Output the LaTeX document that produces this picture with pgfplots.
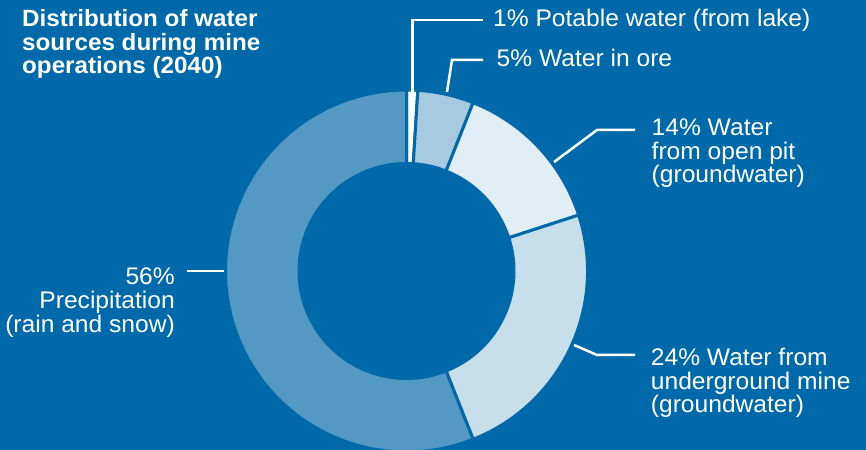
\documentclass[border=0pt]{standalone}
\usepackage{pgfplots}
\pgfplotsset{compat=1.18}
\usepackage{fontspec}
\setmainfont{Liberation Sans}[FakeStretch=1.025]
\newfontfamily\titfam{Liberation Sans}[FakeStretch=1.03]
\definecolor{bg}{HTML}{0069A9}
\definecolor{cPot}{HTML}{FFFFFF}
\definecolor{cOre}{HTML}{A7CAE0}
\definecolor{cPit}{HTML}{E2EEF6}
\definecolor{cUG}{HTML}{C7DFEA}
\definecolor{cPre}{HTML}{5499C4}
\newcommand\labfont{\fontsize{24bp}{24bp}\selectfont}
\newcommand\titfont{\titfam\fontsize{23.5bp}{23.5bp}\selectfont\bfseries}
\begin{document}
\begin{tikzpicture}
\begin{axis}[x=1bp, y=1bp, xmin=0, xmax=866, ymin=0, ymax=450,
  hide axis, scale only axis, clip=true]
\fill[bg] (axis cs:0,0) rectangle (axis cs:866,450);
% donut: shares in percent, clockwise from the top
\gdef\startang{90}
\foreach \v/\c in {1/cPot,5/cOre,14/cPit,24/cUG,56/cPre}{
  \pgfmathsetmacro\endang{\startang-3.6*\v}
  \edef\tmp{\noexpand\filldraw[fill=\c, draw=bg, line width=3bp, line join=miter]
    (axis cs:406.5,179) ++(\startang:181bp)
    arc[start angle=\startang, end angle=\endang, radius=181bp]
    -- ++(\endang+180:73.5bp)
    arc[start angle=\endang, end angle=\startang, radius=107.5bp] -- cycle;}
  \tmp
  \xdef\startang{\endang}
}
% leader lines
\begin{scope}[white, line width=2.5bp]
\draw (axis cs:412.5,358) -- (axis cs:412.5,430) -- (axis cs:483,430);
\draw (axis cs:447,358) -- (axis cs:452,390) -- (axis cs:483,390);
\draw (axis cs:554,288) -- (axis cs:597,320) -- (axis cs:635,320);
\draw (axis cs:574,105) -- (axis cs:597,95) -- (axis cs:635,95);
\draw (axis cs:187,179) -- (axis cs:224,179);
\end{scope}
% labels
\begin{scope}[every node/.style={text=white, inner sep=0pt, anchor=base west, font=\labfont}]
\node at (axis cs:493,423.3) {1\% Potable water (from lake)};
\node at (axis cs:496.5,383.3) {5\% Water in ore};
\node at (axis cs:651.5,314) {14\% Water};
\node at (axis cs:651.5,290.7) {from open pit};
\node at (axis cs:651.5,267.3) {(groundwater)};
\node at (axis cs:650.7,84.3) {24\% Water from};
\node at (axis cs:650.7,60.7) {underground mine};
\node at (axis cs:650.7,37.3) {(groundwater)};
\node[anchor=base east] at (axis cs:175,165.7) {56\%};
\node[anchor=base east] at (axis cs:175,141) {Precipitation};
\node[anchor=base east] at (axis cs:175,117.7) {(rain and snow)};
\node[font=\titfont] at (axis cs:22,423) {Distribution of water};
\node[font=\titfont] at (axis cs:22,399.3) {sources during mine};
\node[font=\titfont] at (axis cs:22,376.5) {operations (2040)};
\end{scope}
\end{axis}
\end{tikzpicture}
\end{document}
